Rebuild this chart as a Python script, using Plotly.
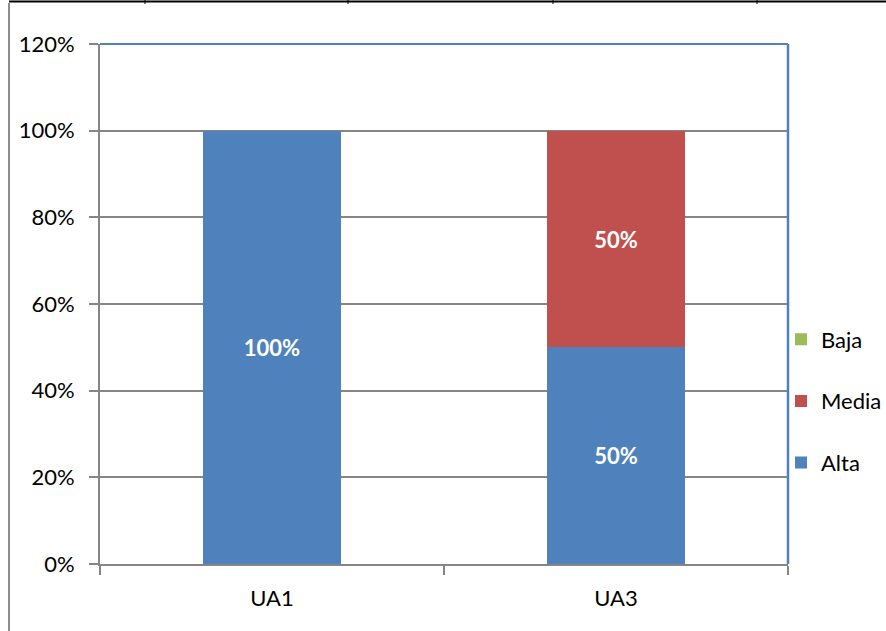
import plotly.graph_objects as go

# Category axis and stacked shares per priority level
categories = ["UA1", "UA3"]
alta = [1.0, 0.5]
media = [0.0, 0.5]
baja = [0.0, 0.0]

# (name, values, colour, legend rank) - stacked bottom to top, listed top to bottom
series = [
    ("Alta", alta, "#4F81BD", 3),
    ("Media", media, "#C0504D", 2),
    ("Baja", baja, "#9BBB59", 1),
]

FONT = "Lato, Noto Sans, sans-serif"
GRID = "#868686"

# Plot area geometry in pixels (used to place decorative frame lines)
W, H = 886, 631
L, R, T, B = 100, 98, 44, 67
pw, ph = W - L - R, H - T - B


def px_x(x):
    return (x - L) / pw


def px_y(y):
    return (H - B - y) / ph


fig = go.Figure()
for name, vals, color, rank in series:
    fig.add_trace(go.Bar(
        name=name,
        x=categories,
        y=vals,
        marker=dict(color=color, line=dict(width=0)),
        text=[f"{v:.0%}" if v > 0 else "" for v in vals],
        textposition="inside",
        insidetextanchor="middle",
        textangle=0,
        textfont=dict(family=FONT, size=22, color="white", weight="bold"),
        legendgroup=name,
        legendrank=rank,
        hoverinfo="skip",
    ))

shapes = [
    # blue frame on top and right of the plot area
    dict(type="line", xref="paper", yref="paper", x0=0, x1=1, y0=1, y1=1,
         line=dict(color="#4F81BD", width=2)),
    dict(type="line", xref="paper", yref="paper", x0=1, x1=1, y0=0, y1=1,
         line=dict(color="#4F81BD", width=2.5)),
    # surrounding page frame
    dict(type="line", xref="paper", yref="paper", x0=px_x(9), x1=px_x(9),
         y0=px_y(3), y1=px_y(H), line=dict(color="#8C8C8C", width=2)),
    dict(type="line", xref="paper", yref="paper", x0=px_x(9), x1=px_x(W),
         y0=px_y(1.5), y1=px_y(1.5), line=dict(color="black", width=2)),
]
for tx in [145, 348, 553, 757]:
    shapes.append(dict(type="line", xref="paper", yref="paper",
                       x0=px_x(tx), x1=px_x(tx), y0=px_y(0), y1=px_y(4),
                       line=dict(color="black", width=1)))

fig.update_layout(
    width=W, height=H,
    margin=dict(l=L, r=R, t=T, b=B, pad=0, autoexpand=False),
    barmode="stack",
    bargap=0.6,
    paper_bgcolor="white",
    plot_bgcolor="white",
    font=dict(family=FONT, size=22, color="black"),
    showlegend=True,
    legend=dict(
        traceorder="grouped",
        tracegroupgap=30,
        x=px_x(781), xanchor="left",
        y=px_y(401), yanchor="middle",
        font=dict(family=FONT, size=22, color="black"),
        bgcolor="rgba(0,0,0,0)",
        itemwidth=30,
    ),
    xaxis=dict(
        showline=True, linecolor=GRID, linewidth=2,
        ticks="outside", tickson="boundaries", ticklen=9,
        tickcolor=GRID, tickwidth=2,
        showgrid=False,
        ticklabelstandoff=14,
        tickfont=dict(family=FONT, size=22),
    ),
    yaxis=dict(
        range=[0, 1.2], dtick=0.2, tickformat=".0%",
        showline=True, linecolor=GRID, linewidth=2,
        ticks="outside", ticklen=9, tickcolor=GRID, tickwidth=2,
        showgrid=True, gridcolor=GRID, gridwidth=2,
        zeroline=False,
        ticklabelstandoff=10,
        tickfont=dict(family=FONT, size=22),
    ),
    shapes=shapes,
)

fig.write_html("out.html")
